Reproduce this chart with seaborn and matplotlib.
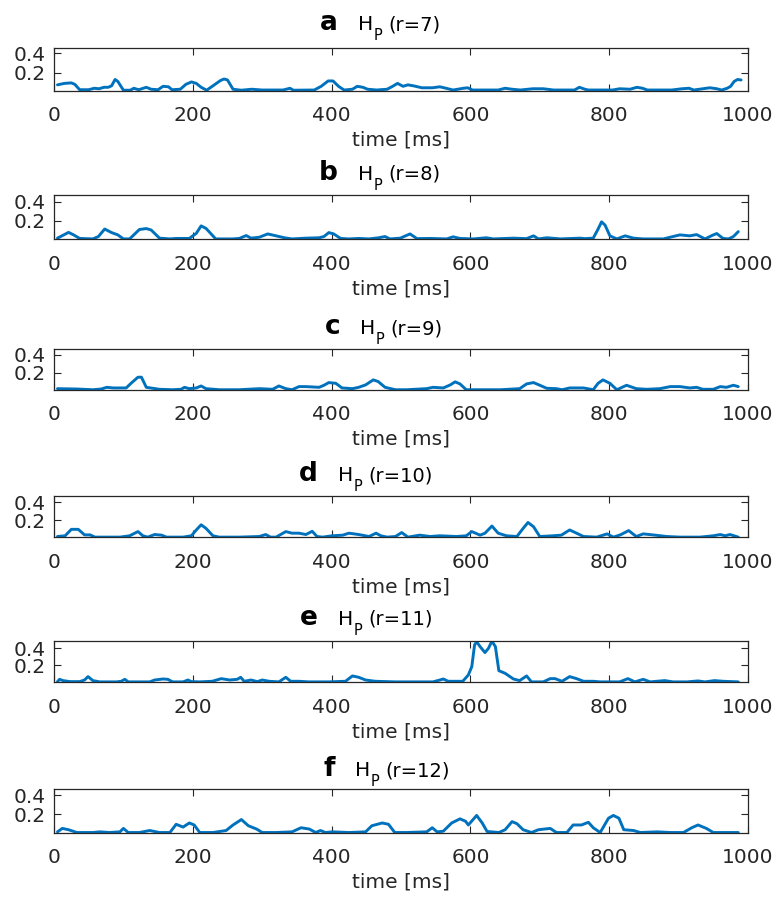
import matplotlib
matplotlib.use("Agg")
import matplotlib.pyplot as plt
import seaborn as sns
import pandas as pd

# ---------------- data ----------------
panel_letters = ["a", "b", "c", "d", "e", "f"]
panel_r = [7, 8, 9, 10, 11, 12]
x_ticks = [0, 200, 400, 600, 800, 1000]
y_ticks = [0.2, 0.4]
y_limits = [(0.015, 0.45), (0.008, 0.47), (0.005, 0.46),
            (0.008, 0.47), (0.0, 0.49), (0.005, 0.46)]

hp_r7 = [(5, 0.075), (15, 0.09), (25, 0.095), (30, 0.08), (37, 0.025), (50, 0.025),
         (58, 0.04), (65, 0.035), (72, 0.05), (78, 0.05), (83, 0.065), (88, 0.13),
         (92, 0.11), (100, 0.02), (110, 0.02), (115, 0.04), (122, 0.025), (133, 0.05),
         (140, 0.03), (150, 0.025), (157, 0.06), (165, 0.055), (170, 0.025), (182, 0.03),
         (190, 0.08), (198, 0.105), (205, 0.09), (212, 0.05), (220, 0.02), (228, 0.06),
         (240, 0.12), (245, 0.135), (250, 0.125), (258, 0.03), (270, 0.02), (285, 0.03),
         (300, 0.022), (330, 0.022), (340, 0.04), (345, 0.02), (375, 0.022), (385, 0.06),
         (395, 0.115), (402, 0.115), (410, 0.06), (418, 0.022), (430, 0.03), (437, 0.06),
         (445, 0.05), (452, 0.03), (465, 0.022), (480, 0.03), (488, 0.06), (495, 0.09),
         (503, 0.06), (510, 0.075), (518, 0.065), (530, 0.045), (545, 0.045), (556, 0.055),
         (565, 0.04), (575, 0.022), (590, 0.04), (596, 0.045), (603, 0.022), (640, 0.022),
         (650, 0.04), (660, 0.03), (672, 0.022), (690, 0.035), (705, 0.035), (720, 0.022),
         (750, 0.022), (757, 0.05), (765, 0.03), (770, 0.022), (805, 0.022), (815, 0.035),
         (830, 0.03), (840, 0.05), (848, 0.04), (855, 0.022), (890, 0.022), (905, 0.035),
         (915, 0.04), (922, 0.022), (935, 0.035), (945, 0.045), (955, 0.035), (962, 0.022),
         (970, 0.04), (975, 0.06), (980, 0.11), (985, 0.13), (990, 0.125)]

hp_r8 = [(5, 0.02), (21, 0.08), (28, 0.055), (37, 0.017), (56, 0.012), (64, 0.037),
         (73, 0.115), (83, 0.078), (92, 0.054), (100, 0.012), (109, 0.012), (123, 0.11),
         (133, 0.12), (140, 0.105), (152, 0.02), (167, 0.012), (176, 0.017), (195, 0.017),
         (205, 0.07), (212, 0.148), (219, 0.122), (233, 0.012), (257, 0.012), (267, 0.017),
         (277, 0.047), (284, 0.02), (296, 0.03), (308, 0.064), (320, 0.044), (332, 0.024),
         (343, 0.012), (363, 0.02), (382, 0.024), (389, 0.037), (396, 0.078), (403, 0.064),
         (413, 0.017), (425, 0.012), (439, 0.017), (454, 0.012), (468, 0.024), (477, 0.037),
         (484, 0.012), (499, 0.02), (513, 0.064), (523, 0.015), (542, 0.017), (566, 0.012),
         (575, 0.034), (585, 0.017), (604, 0.012), (623, 0.024), (633, 0.012), (662, 0.02),
         (681, 0.015), (691, 0.044), (698, 0.012), (710, 0.024), (730, 0.012), (758, 0.02),
         (765, 0.015), (777, 0.02), (784, 0.115), (789, 0.19), (794, 0.156), (801, 0.044),
         (811, 0.012), (823, 0.044), (835, 0.02), (849, 0.012), (878, 0.012), (888, 0.03),
         (902, 0.054), (916, 0.044), (926, 0.057), (938, 0.012), (950, 0.054), (955, 0.068),
         (964, 0.017), (972, 0.012), (979, 0.037), (986, 0.088)]

hp_r9 = [(5, 0.02), (33, 0.016), (56, 0.008), (68, 0.016), (76, 0.035), (85, 0.028),
         (104, 0.028), (111, 0.08), (121, 0.148), (126, 0.148), (133, 0.035), (152, 0.013),
         (171, 0.008), (183, 0.013), (188, 0.035), (195, 0.02), (205, 0.028), (212, 0.05),
         (219, 0.02), (238, 0.008), (267, 0.008), (296, 0.02), (315, 0.013), (324, 0.05),
         (334, 0.02), (343, 0.008), (353, 0.043), (363, 0.043), (382, 0.035), (389, 0.058),
         (396, 0.088), (406, 0.08), (415, 0.028), (430, 0.02), (439, 0.035), (449, 0.062),
         (460, 0.118), (467, 0.1), (477, 0.035), (492, 0.008), (508, 0.008), (537, 0.02),
         (546, 0.035), (561, 0.028), (571, 0.062), (578, 0.096), (585, 0.073), (594, 0.008),
         (643, 0.008), (671, 0.02), (681, 0.073), (691, 0.088), (700, 0.058), (710, 0.024),
         (724, 0.02), (732, 0.008), (743, 0.028), (763, 0.028), (777, 0.008), (784, 0.08),
         (791, 0.118), (801, 0.08), (811, 0.008), (825, 0.058), (839, 0.02), (854, 0.013),
         (873, 0.02), (888, 0.043), (902, 0.043), (916, 0.028), (926, 0.035), (935, 0.013),
         (950, 0.013), (960, 0.043), (969, 0.035), (979, 0.058), (986, 0.043)]

hp_r10 = [(5, 0.017), (16, 0.025), (25, 0.097), (35, 0.097), (44, 0.035), (52, 0.035),
          (59, 0.01), (95, 0.01), (109, 0.025), (121, 0.072), (128, 0.025), (135, 0.01),
          (145, 0.039), (155, 0.032), (162, 0.01), (186, 0.01), (198, 0.025), (205, 0.09),
          (212, 0.148), (219, 0.108), (229, 0.025), (238, 0.01), (267, 0.01), (296, 0.017),
          (305, 0.039), (312, 0.01), (320, 0.01), (334, 0.072), (343, 0.054), (353, 0.054),
          (363, 0.039), (372, 0.075), (379, 0.017), (387, 0.01), (401, 0.025), (416, 0.032),
          (425, 0.054), (439, 0.039), (454, 0.017), (464, 0.054), (471, 0.025), (480, 0.01),
          (492, 0.017), (501, 0.061), (510, 0.01), (527, 0.032), (542, 0.017), (556, 0.025),
          (580, 0.017), (594, 0.025), (602, 0.072), (614, 0.032), (621, 0.054), (631, 0.134),
          (640, 0.054), (652, 0.025), (667, 0.017), (676, 0.108), (683, 0.174), (691, 0.126),
          (700, 0.017), (719, 0.025), (731, 0.032), (743, 0.09), (753, 0.054), (763, 0.017),
          (782, 0.01), (797, 0.046), (806, 0.01), (816, 0.035), (828, 0.083), (839, 0.017),
          (849, 0.046), (863, 0.035), (883, 0.017), (902, 0.01), (931, 0.01), (950, 0.025),
          (960, 0.039), (967, 0.025), (974, 0.039), (986, 0.01)]

hp_r11 = [(5, 0.008), (8, 0.035), (13, 0.02), (23, 0.008), (37, 0.008), (44, 0.027),
          (49, 0.067), (56, 0.02), (66, 0.005), (90, 0.005), (97, 0.012), (102, 0.035),
          (107, 0.005), (138, 0.005), (145, 0.027), (157, 0.039), (164, 0.035), (171, 0.005),
          (186, 0.005), (193, 0.027), (198, 0.008), (210, 0.005), (228, 0.012), (241, 0.043),
          (253, 0.027), (264, 0.035), (269, 0.059), (274, 0.012), (284, 0.027), (293, 0.008),
          (300, 0.027), (310, 0.012), (324, 0.005), (334, 0.059), (341, 0.012), (353, 0.012),
          (367, 0.005), (396, 0.005), (420, 0.012), (430, 0.075), (439, 0.059), (449, 0.027),
          (463, 0.012), (492, 0.005), (527, 0.005), (546, 0.005), (556, 0.027), (561, 0.039),
          (568, 0.012), (589, 0.012), (597, 0.086), (602, 0.184), (606, 0.44), (609, 0.478),
          (614, 0.42), (621, 0.35), (626, 0.4), (631, 0.485), (636, 0.42), (641, 0.137),
          (650, 0.106), (662, 0.039), (671, 0.02), (681, 0.075), (688, 0.005), (705, 0.005),
          (715, 0.043), (722, 0.043), (732, 0.012), (743, 0.067), (753, 0.043), (763, 0.012),
          (777, 0.012), (787, 0.005), (815, 0.005), (827, 0.043), (837, 0.005), (849, 0.035),
          (859, 0.005), (880, 0.02), (892, 0.005), (912, 0.005), (928, 0.016), (938, 0.005),
          (952, 0.02), (964, 0.012), (986, 0.005)]

hp_r12 = [(5, 0.014), (12, 0.05), (21, 0.036), (33, 0.007), (56, 0.007), (66, 0.014),
          (80, 0.007), (95, 0.014), (100, 0.05), (107, 0.007), (123, 0.007), (138, 0.028),
          (152, 0.007), (167, 0.007), (176, 0.093), (186, 0.064), (195, 0.107), (202, 0.086),
          (210, 0.007), (229, 0.007), (248, 0.028), (258, 0.086), (270, 0.143), (280, 0.078),
          (292, 0.043), (300, 0.007), (320, 0.007), (343, 0.014), (356, 0.057), (368, 0.043),
          (377, 0.007), (384, 0.028), (391, 0.007), (401, 0.014), (425, 0.007), (449, 0.014),
          (458, 0.078), (473, 0.107), (482, 0.093), (491, 0.007), (508, 0.007), (537, 0.014),
          (545, 0.057), (552, 0.014), (561, 0.021), (573, 0.107), (585, 0.15), (593, 0.125),
          (597, 0.086), (609, 0.186), (617, 0.107), (624, 0.018), (641, 0.007), (650, 0.036),
          (660, 0.121), (667, 0.1), (676, 0.036), (688, 0.007), (698, 0.036), (715, 0.05),
          (724, 0.007), (739, 0.007), (748, 0.086), (760, 0.086), (770, 0.114), (777, 0.057),
          (787, 0.007), (799, 0.157), (806, 0.186), (814, 0.157), (821, 0.036), (835, 0.028),
          (845, 0.007), (869, 0.014), (888, 0.007), (907, 0.007), (919, 0.057), (928, 0.086),
          (940, 0.05), (950, 0.007), (986, 0.007)]

series = [hp_r7, hp_r8, hp_r9, hp_r10, hp_r11, hp_r12]

# ---------------- styling / layout ----------------
sns.set_theme(style="ticks")
plt.rcParams["font.family"] = ["DejaVu Sans"]

DARK = "#262626"
LINE = "#0072BD"

fig = plt.figure(figsize=(7.76, 9.0), dpi=100)
W, H = 776.0, 900.0
left_px, right_px = 54.0, 748.0
# (top, bottom) pixel edges of each axes
ax_edges = [(48.3, 90.7), (195.0, 239.3), (349.3, 390.0),
            (496.0, 537.3), (640.7, 682.3), (789.3, 832.7)]
# pixel x where the "H" of each title starts, and title baseline gap above axes
title_h_px = [358, 358, 360, 338, 338, 355]
title_gap = [18, 15, 15, 15, 16, 13]

renderer = fig.canvas.get_renderer()

for i, (letter, r, data, ylim) in enumerate(zip(panel_letters, panel_r, series, y_limits)):
    top, bot = ax_edges[i]
    ax = fig.add_axes([left_px / W, 1 - bot / H, (right_px - left_px) / W, (bot - top) / H])
    df = pd.DataFrame(data, columns=["time", "hp"])
    sns.lineplot(data=df, x="time", y="hp", ax=ax, color=LINE, linewidth=2.1,
                 estimator=None, sort=False)
    ax.set_xlim(0, 1000)
    ax.set_ylim(*ylim)
    ax.set_xticks(x_ticks)
    ax.set_xticklabels([str(t) for t in x_ticks])
    ax.set_yticks(y_ticks)
    ax.set_yticklabels([f"{t:.1f}" for t in y_ticks])
    ax.tick_params(axis="both", direction="in", top=True, right=True, length=5,
                   width=0.8, colors=DARK, labelsize=14.5)
    ax.tick_params(axis="x", pad=11)
    ax.tick_params(axis="y", pad=6)
    for s in ax.spines.values():
        s.set_visible(True)
        s.set_color(DARK)
        s.set_linewidth(0.9)
    ax.set_xlabel("time [ms]", fontsize=14.5, color=DARK, labelpad=4)
    ax.set_ylabel("")

    # title built from pieces: bold letter, H, subscript P, (r=..)
    base_y = H - top + title_gap[i]          # display coords (origin bottom-left)
    hx = title_h_px[i]
    fig.text((hx - 20) / W, base_y / H, letter, ha="right", va="baseline",
             fontsize=19, fontweight="bold", color="black")
    th = fig.text(hx / W, base_y / H, "H", ha="left", va="baseline",
                  fontsize=14.5, color="black")
    x1 = th.get_window_extent(renderer).x1
    tp = fig.text((x1 + 0.5) / W, (base_y - 10) / H, "P", ha="left", va="baseline",
                  fontsize=10.5, color="black")
    x2 = tp.get_window_extent(renderer).x1
    fig.text((x2 + 6) / W, base_y / H, f"(r={r})", ha="left", va="baseline",
             fontsize=14, color="black")

fig.savefig("out.png", dpi=100)
